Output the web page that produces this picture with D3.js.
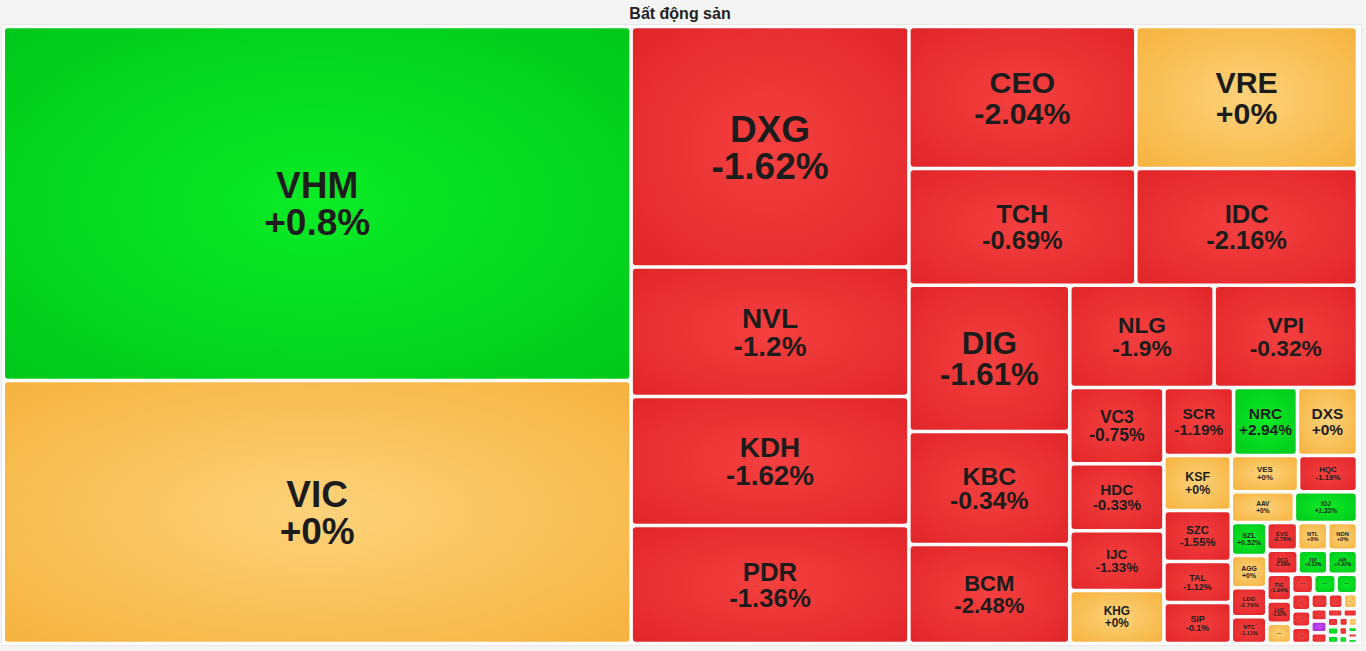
<!DOCTYPE html>
<html>
<head>
<meta charset="utf-8">
<script src="https://cdn.jsdelivr.net/npm/d3@7"></script>
<style>
  body { margin: 0; background: #f4f4f4; font-family: "Liberation Sans", Arial, Helvetica, sans-serif; }
</style>
</head>
<body>
<div id="treemap"></div>
<script>
var title = "Bất động sản";

// tickers in layout order ("" = too small, shown as "...")
var tickers = ["VHM", "VIC", "DXG", "NVL", "KDH", "PDR", "CEO", "VRE", "TCH", "IDC",
  "DIG", "KBC", "BCM", "NLG", "VPI", "VC3", "HDC", "IJC", "KHG", "SCR",
  "NRC", "DXS", "KSF", "SZC", "TAL", "SIP", "VES", "HQC", "AAV", "IDJ",
  "SZL", "AGG", "LDG", "NTC", "EVG", "NTL", "NDN", "QCG", "TIP", "API",
  "TIG", "LHG", "", "", "", "", "", "", "", "",
  "", "", "", "", "", "", "", "", "", "",
  "", "", "", "", "", "", ""];

// relative market cap (cell size)
var caps = [222192, 165067, 66773, 35990, 35796, 32755, 32200, 31455, 26468, 25856,
  23557, 18170, 15911, 14768, 14661, 7172, 6298, 5640, 4977, 4732,
  4339, 4078, 3716, 3420, 2775, 2752, 2434, 2129, 1945, 1945,
  1175, 1147, 1024, 951, 855, 836, 826, 752, 713, 713,
  663, 549, 500, 430, 440, 415, 325, 320, 313, 261,
  226, 215, 200, 190, 175, 130, 120, 110, 100, 95,
  90, 85, 80, 70, 60, 55, 50];

// % change of the day
var changes = [0.8, 0, -1.62, -1.2, -1.62, -1.36, -2.04, 0, -0.69, -2.16,
  -1.61, -0.34, -2.48, -1.9, -0.32, -0.75, -0.33, -1.33, 0, -1.19,
  2.94, 0, 0, -1.55, -1.12, -0.1, 0, -1.19, 0, 2.33,
  0.52, 0, -2.79, -1.11, -2.78, 0, 0, -1.39, 0.33, 4.92,
  -1.96, -1.03, 0, -1.2, 1.5, 2.1, -0.8, -1.4, -0.6, -1.1,
  -0.9, 0, -1.3, 6.9, -0.5, -0.7, -1.8, -0.4, 1.1, 1.6,
  -2.2, 0, -0.9, 1.3, 0.9, -1.5, 1.4];

var svgWidth = 1366;
var svgHeight = 651;
var box = { x0: 3.25, y0: 26.55, x1: 1357.45, y1: 643.45 };
var gap = 3.5;
var targetRatio = 1.36; // preferred cell width / height

// squarified tiling that aims for landscape cells (w/h ~ targetRatio)
function tileWide(parent, x0, y0, x1, y1) {
  var nodes = parent.children, n = nodes.length, i0 = 0, value = parent.value;
  while (i0 < n) {
    var dx = x1 - x0, dy = y1 - y0;
    var across = dx < dy; // row along the top, else column on the left
    var side = across ? dx : dy;
    var depth = across ? dy : dx;
    var best = Infinity, sum = 0, end = i0 + 1;
    for (var i = i0; i < n; i++) {
      var s = sum + nodes[i].value;
      var t = depth * s / value;
      var worst = 0;
      for (var j = i0; j <= i; j++) {
        var len = side * nodes[j].value / s;
        var r = across ? len / t : t / len;
        worst = Math.max(worst, r / targetRatio, targetRatio / r);
      }
      if (worst > best) break;
      best = worst; sum = s; end = i + 1;
    }
    var t0 = end >= n ? depth : depth * sum / value;
    var row = { children: nodes.slice(i0, end), value: sum };
    if (across) { d3.treemapDice(row, x0, y0, x1, y0 + t0); y0 += t0; }
    else { d3.treemapSlice(row, x0, y0, x0 + t0, y1); x0 += t0; }
    value -= sum;
    i0 = end;
  }
}

var svg = d3.select("#treemap")
  .append("svg")
  .attr("width", svgWidth)
  .attr("height", svgHeight);

var defs = svg.append("defs");
var palette = {
  up: ["#0aec26", "#00c61b"],
  down: ["#f5403f", "#e02428"],
  flat: ["#fdd27a", "#f5b13b"],
  ceil: ["#c84cf2", "#a024d6"]
};
Object.keys(palette).forEach(function(k) {
  var grad = defs.append("radialGradient")
    .attr("id", "grad-" + k)
    .attr("cx", "50%").attr("cy", "50%").attr("r", "75%");
  grad.append("stop").attr("offset", "0%").attr("stop-color", palette[k][0]);
  grad.append("stop").attr("offset", "100%").attr("stop-color", palette[k][1]);
});

function colorKey(c) {
  if (c >= 6.9) return "ceil";
  if (c > 0) return "up";
  if (c < 0) return "down";
  return "flat";
}

svg.append("rect")
  .attr("x", 1.5)
  .attr("y", 24.5)
  .attr("width", 1360)
  .attr("height", 621)
  .attr("fill", "#ffffff")
  .attr("stroke", "#e8e8e8");

svg.append("text")
  .attr("x", 680)
  .attr("y", 19)
  .attr("text-anchor", "middle")
  .attr("font-size", 16)
  .attr("font-weight", "bold")
  .attr("fill", "#222")
  .text(title);

var data = tickers.map(function(t, i) {
  return { ticker: t, cap: caps[i], change: changes[i] };
});

var root = d3.hierarchy({ children: data }).sum(d => d.cap || 0);

d3.treemap()
  .tile(tileWide)
  .size([box.x1 - box.x0, box.y1 - box.y0])(root);

var chartGroup = svg.append("g")
  .attr("transform", `translate(${box.x0}, ${box.y0})`);

var cell = chartGroup.selectAll("g.cell")
  .data(root.leaves())
  .enter()
  .append("g")
  .attr("class", "cell")
  .attr("transform", d => `translate(${d.x0 + gap / 2}, ${d.y0 + gap / 2})`);

cell.append("rect")
  .attr("width", d => Math.max(0.5, d.x1 - d.x0 - gap))
  .attr("height", d => Math.max(0.5, d.y1 - d.y0 - gap))
  .attr("rx", d => Math.min(3, (d.x1 - d.x0 - gap) / 5, (d.y1 - d.y0 - gap) / 5))
  .attr("fill", d => "url(#grad-" + colorKey(d.data.change) + ")");

cell.each(function(d) {
  var w = d.x1 - d.x0 - gap;
  var h = d.y1 - d.y0 - gap;
  var g = d3.select(this);

  if (d.data.ticker === "") {
    var fsd = Math.min(h * 0.35, w * 0.3, 8);
    if (fsd < 3) return;
    g.append("text")
      .attr("x", w / 2)
      .attr("y", h / 2 + fsd * 0.08)
      .attr("text-anchor", "middle")
      .attr("font-size", fsd)
      .attr("font-weight", "bold")
      .attr("fill", "#333")
      .text("...");
    return;
  }

  var fs = Math.min(0.24 * h, 0.19 * h + 4, 37);
  var pct = (d.data.change >= 0 ? "+" : "") + d.data.change + "%";

  var label = g.append("text")
    .attr("text-anchor", "middle")
    .attr("font-size", fs)
    .attr("font-weight", "bold")
    .attr("fill", "#1c1c1c");
  var t1 = label.append("tspan").text(d.data.ticker);
  var t2 = label.append("tspan").text(pct);
  var tw = Math.max(t1.node().getComputedTextLength(), t2.node().getComputedTextLength());
  if (tw > 0.88 * w) fs = fs * 0.88 * w / tw;

  label.attr("font-size", fs);
  t1.attr("x", w / 2).attr("y", h / 2 - 0.142 * fs);
  t2.attr("x", w / 2).attr("y", h / 2 + 0.858 * fs);
});
</script>
</body>
</html>
